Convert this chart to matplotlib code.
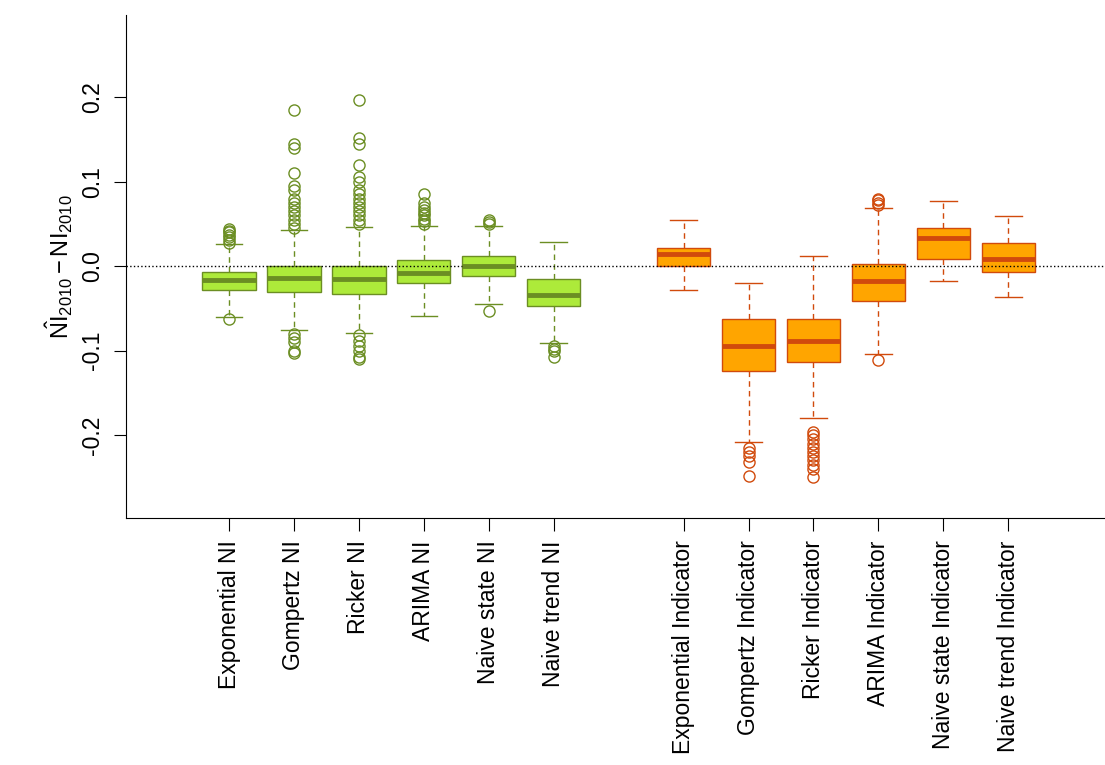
import numpy as np
import matplotlib.pyplot as plt

plt.rcParams['font.family'] = ['Liberation Sans', 'DejaVu Sans']
plt.rcParams['mathtext.fontset'] = 'custom'
plt.rcParams['mathtext.rm'] = 'Liberation Sans'
plt.rcParams['mathtext.it'] = 'Liberation Sans'

labels = ["Exponential NI", "Gompertz NI", "Ricker NI", "ARIMA NI", "Naive state NI", "Naive trend NI",
          "Exponential Indicator", "Gompertz Indicator", "Ricker Indicator", "ARIMA Indicator",
          "Naive state Indicator", "Naive trend Indicator"]
positions = [1, 2, 3, 4, 5, 6, 8, 9, 10, 11, 12, 13]
whislo = [-0.060, -0.076, -0.079, -0.059, -0.045, -0.091, -0.028, -0.208, -0.180, -0.104, -0.018, -0.036]
q1 = [-0.0284, -0.031, -0.033, -0.020, -0.012, -0.047, 0.000, -0.124, -0.114, -0.041, 0.009, -0.007]
med = [-0.0166, -0.014, -0.015, -0.008, 0.000, -0.034, 0.014, -0.094, -0.089, -0.017, 0.033, 0.009]
q3 = [-0.0071, 0.000, 0.000, 0.007, 0.012, -0.015, 0.022, -0.062, -0.062, 0.003, 0.045, 0.028]
whishi = [0.026, 0.043, 0.046, 0.048, 0.047, 0.029, 0.055, -0.020, 0.012, 0.069, 0.077, 0.059]
fliers = [
    [0.028, 0.031, 0.034, 0.037, 0.040, 0.042, 0.044, -0.062],
    [0.045, 0.050, 0.055, 0.060, 0.065, 0.070, 0.075, 0.080, 0.090, 0.095, 0.110, 0.140, 0.145, 0.185,
     -0.080, -0.085, -0.090, -0.100, -0.103],
    [0.050, 0.055, 0.060, 0.065, 0.070, 0.075, 0.080, 0.085, 0.090, 0.100, 0.105, 0.120, 0.145, 0.152, 0.197,
     -0.082, -0.088, -0.095, -0.100, -0.108, -0.110],
    [0.050, 0.053, 0.056, 0.060, 0.063, 0.066, 0.070, 0.075, 0.085],
    [0.050, 0.052, 0.055, -0.053],
    [-0.095, -0.098, -0.100, -0.108],
    [],
    [-0.215, -0.220, -0.225, -0.232, -0.248],
    [-0.196, -0.200, -0.205, -0.210, -0.215, -0.220, -0.225, -0.230, -0.235, -0.240, -0.250],
    [0.072, 0.075, 0.078, 0.080, -0.111],
    [],
    [],
]

fig = plt.figure(figsize=(11.05, 7.65), dpi=100)
ax = fig.add_axes([0.114, 0.323, 0.886, 0.657])

for i in range(len(labels)):
    if i < 6:
        face, edge = '#ADEA3A', '#6B8E23'
    else:
        face, edge = '#FFA500', '#D14A0C'
    st = [dict(whislo=whislo[i], q1=q1[i], med=med[i], q3=q3[i], whishi=whishi[i], fliers=fliers[i])]
    ax.bxp(st, positions=[positions[i]], widths=0.82, patch_artist=True,
           boxprops=dict(facecolor=face, edgecolor=edge, linewidth=1),
           medianprops=dict(color=edge, linewidth=3.5, solid_capstyle='butt'),
           whiskerprops=dict(color=edge, linestyle=(0, (4, 3)), linewidth=1),
           capprops=dict(color=edge, linewidth=1), capwidths=0.41,
           flierprops=dict(marker='o', markerfacecolor='none', markeredgecolor=edge, markersize=8))

ax.axhline(0, color='black', linestyle=':', linewidth=1)
ax.set_xlim(-0.587, 14.49)
ax.set_ylim(-0.298, 0.297)
ax.set_xticks(positions)
ax.set_xticklabels(labels, rotation=90, fontsize=16.5)
ax.set_yticks([-0.2, -0.1, 0.0, 0.1, 0.2])
ax.set_yticklabels(['-0.2', '-0.1', '0.0', '0.1', '0.2'], rotation=90, va='center', fontsize=16.5)
ax.set_ylabel(r'$\hat{NI}_{2010} - NI_{2010}$', fontsize=17)
ax.spines['top'].set_visible(False)
ax.spines['right'].set_visible(False)
ax.tick_params(length=9, pad=7)

fig.savefig('out.png', dpi=100)
